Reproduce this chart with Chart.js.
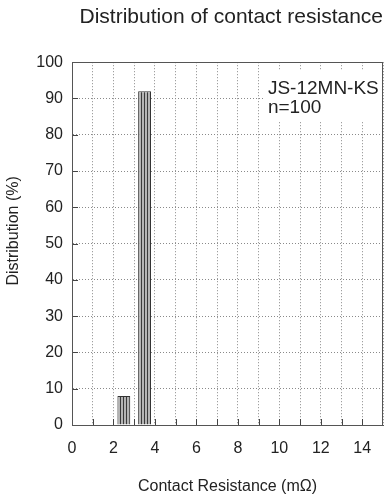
<!DOCTYPE html>
<html>
<head>
<meta charset="utf-8">
<script src="https://cdn.jsdelivr.net/npm/chart.js@4/dist/chart.umd.min.js"></script>
<style>
  html, body { margin: 0; padding: 0; background: #fff; }
  #wrap { width: 384px; height: 498px; }
</style>
</head>
<body>
<div id="wrap"><canvas id="dist-chart"></canvas></div>
<script>
// histogram bins: centre of each 1 mΩ bin and its share of samples
const binCenters = [2.5, 3.5];
const percentages = [8, 92];
const xTickLabels = ['0', '2', '4', '6', '8', '10', '12', '14'];
const noteLines = ['JS-12MN-KS', 'n=100'];
const yAxisTitle = 'Distribution (%)';

const FONT = '"Liberation Sans", Arial, sans-serif';

// vertical stripe fill for the bars
function stripePattern() {
  const c = document.createElement('canvas');
  c.width = 3;
  c.height = 4;
  const g = c.getContext('2d');
  g.fillStyle = '#b4b4b4';
  g.fillRect(0, 0, 3, 4);
  g.fillStyle = '#3a3a3a';
  g.fillRect(0, 0, 1, 4);
  return g.createPattern(c, 'repeat');
}

// frame, inward tick marks, y title and the sample note box
const plotDecor = {
  id: 'plotDecor',
  beforeDatasetsDraw(chart) {
    const { ctx, chartArea: a, scales: { x, y } } = chart;
    ctx.save();

    // note box hides the grid behind it
    const bx0 = x.getPixelForValue(9.3), bx1 = x.getPixelForValue(15);
    const by0 = y.getPixelForValue(97.6), by1 = y.getPixelForValue(83.6);
    ctx.fillStyle = '#fff';
    ctx.fillRect(bx0, by0, bx1 - bx0, by1 - by0);
    ctx.fillStyle = '#222';
    ctx.font = '19px ' + FONT;
    ctx.textBaseline = 'middle';
    ctx.textAlign = 'left';
    ctx.fillText(noteLines[0], x.getPixelForValue(9.45), y.getPixelForValue(92.8));
    ctx.fillText(noteLines[1], x.getPixelForValue(9.45), y.getPixelForValue(87.5));

    // short solid ticks pointing into the plot
    ctx.strokeStyle = '#444';
    ctx.lineWidth = 1;
    ctx.beginPath();
    for (let v = 1; v < 15; v++) {
      const px = Math.round(x.getPixelForValue(v)) + 0.5;
      ctx.moveTo(px, a.bottom);
      ctx.lineTo(px, a.bottom - 6);
    }
    for (let v = 10; v < 100; v += 10) {
      const py = Math.round(y.getPixelForValue(v)) + 0.5;
      ctx.moveTo(a.left, py);
      ctx.lineTo(a.left + 6, py);
    }
    ctx.stroke();

    ctx.strokeStyle = '#555';
    ctx.strokeRect(Math.round(a.left) + 0.5, Math.round(a.top) + 0.5,
      Math.round(a.right - a.left) - 1, Math.round(a.bottom - a.top));

    // rotated y axis title, sitting a little above the axis middle
    ctx.translate(14, y.getPixelForValue(53.5));
    ctx.rotate(-Math.PI / 2);
    ctx.textAlign = 'center';
    ctx.font = '16px ' + FONT;
    ctx.fillText(yAxisTitle, 0, 0);
    ctx.restore();
  }
};

new Chart(document.getElementById('dist-chart'), {
  type: 'bar',
  data: {
    datasets: [{
      data: binCenters.map((c, i) => ({ x: c, y: percentages[i] })),
      backgroundColor: stripePattern(),
      borderColor: '#333',
      borderWidth: 1,
      categoryPercentage: 1,
      barPercentage: 0.62
    }]
  },
  options: {
    responsive: true,
    maintainAspectRatio: false,
    animation: false,
    layout: { padding: { right: 1 } },
    plugins: {
      legend: { display: false },
      tooltip: { enabled: false },
      title: {
        display: true,
        text: 'Distribution of contact resistance',
        align: 'end',
        color: '#222',
        font: { family: FONT, size: 21, weight: 'normal' },
        padding: { top: 5, bottom: 32 }
      }
    },
    scales: {
      x: {
        type: 'linear',
        min: 0,
        max: 15,
        offset: false,
        afterFit: s => {
          s.height = 73;
          s.paddingLeft = 0;
          s.paddingRight = 0;
        },
        ticks: {
          stepSize: 1,
          autoSkip: false,
          maxRotation: 0,
          padding: 14,
          color: '#222',
          font: { family: FONT, size: 16 },
          callback: v => (v % 2 === 0 && v < 15 ? xTickLabels[v / 2] : '')
        },
        grid: { color: '#8a8a8a', drawTicks: false, offset: false },
        border: { display: true, color: '#555', dash: [1, 2] },
        title: {
          display: true,
          text: 'Contact Resistance (mΩ)',
          color: '#222',
          font: { family: FONT, size: 16 },
          padding: { top: 0, bottom: 2 }
        }
      },
      y: {
        min: 0,
        max: 100,
        afterFit: s => { s.width = 72; },
        ticks: {
          stepSize: 10,
          padding: 9,
          color: '#222',
          font: { family: FONT, size: 16 }
        },
        grid: { color: '#8a8a8a', drawTicks: false },
        border: { display: true, color: '#555', dash: [1, 2] }
      }
    }
  },
  plugins: [plotDecor]
});
</script>
</body>
</html>
